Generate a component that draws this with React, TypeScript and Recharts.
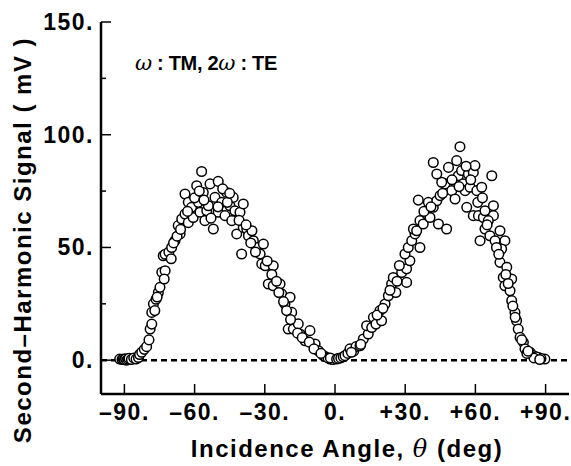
import { ScatterChart, Scatter, XAxis, YAxis, ReferenceLine } from 'recharts';

// incidence angle ticks (deg)
const angleTicks = [-90, -60, -30, 0, 30, 60, 90];
const angleTickLabels = ['\u201390.', '\u201360.', '\u201330.', '0.', '+30.', '+60.', '+90.'];
const angleMinorTicks = [-75, -45, -15, 15, 45, 75];

// signal ticks (mV)
const signalTicks = [0, 50, 100, 150];
const signalTickLabels = ['0.', '50.', '100.', '150.'];
const signalMinorTicks = [25, 75, 125];

// left lobe
const leftAngle = [
  -92, -91, -90.5, -90, -89.5, -89, -88.5, -88, -87, -86, -85, -84, -83.5, -82.6, -81.5, -80.5, -79.5, -79, -78.3,
  -78.3, -77.6, -76.5, -75.5, -74.8, -74, -72.6, -73.4, -72.6, -71, -69.8, -68.4, -67, -66.2, -65.5, -64.1, -64.1,
  -62.7, -61.3, -62.7, -60.6, -59.1, -58.4, -57.7, -57, -56.3, -55.6, -54.8, -54.1, -53.4, -52, -51.3, -49.9, -49.9,
  -48.4, -47, -46.3, -44.9, -44.1, -43.5, -42.8, -42, -40.6, -39.2, -39.2, -37.7, -37, -39.9, -34.9, -35.5, -33.5,
  -30.6, -32, -31.3, -29.8, -26.4, -28.5, -26.4, -23.5, -22.8, -21.4, -19.2, -18.5, -20.7, -20, -17.8, -15.7, -15,
  -10.7, -12.8, -8.5, -7.1, -5, -2.1, -4, -3, -1,
  -77, -76, -73, -70, -69, -67.5, -66, -63, -60, -58, -56, -53, -50, -48, -46, -45, -41, -38, -36, -34, -29, -27,
  -25, -24, -22, -19, -16, -14, -11, -9, -6, -2,
];
const leftSignal = [
  0.5, 0.3, 0.5, 0.2, 0.6, 0, 0.4, 0.8, 0.3, 1, 0.5, 1.2, 2.5, 3.5, 4.8, 6, 9, 13.8, 16,
  21.2, 25, 27, 30, 32.3, 39, 39.7, 46.3, 47, 48, 50, 53, 59.7, 56, 62.6, 64.8, 73.7,
  70, 67.8, 61, 63.3, 77.4, 70, 65.6, 83.7, 74.4, 61.9, 66.3, 68.5, 78.2, 58.2, 72.2, 79.3, 65.6,
  70, 64.1, 74.4, 68.5, 61.9, 72.2, 66.3, 56, 65.6, 69.3, 58.9, 58.2, 55.2, 47.1, 53, 57.4, 50,
  51.5, 47.1, 42.7, 41.9, 41.9, 33.8, 33, 33.8, 29.4, 24.9, 27.9, 21.2, 22, 13.8, 13.8, 16.1, 11.6,
  13.1, 8.6, 7.2, 4.2, 2, 0.5, 1.5, 1, 0.3,
  22, 28, 36, 45, 52, 55, 58, 66, 72, 75, 71, 63, 68, 76, 70, 74, 62, 60, 52, 48, 44, 38,
  35, 30, 26, 18, 12, 10, 8, 5, 3, 1,
];

// right lobe
const rightAngle = [
  0.7, 1.5, 2.5, 3.5, 4.3, 5.5, 6.4, 8, 9, 10.7, 12.1, 14.2, 13.5, 15.7, 16.4, 17.5, 19.2, 19.9, 21.4, 22.8, 24.2,
  24.9, 26, 28.5, 30.6, 30.6, 32, 29.9, 31.3, 32.8, 36.3, 34.2, 33.5, 34.9, 36.3, 37.7, 39.2, 40.6, 39.9, 35.6, 42,
  44.2, 43.5, 44.9, 47.7, 47, 45.6, 42, 43.5, 48.5, 49.9, 51.3, 52, 53.4, 52.7, 54.1, 54.8, 55.6, 57, 59.1, 59.8,
  57.7, 60.6, 62.7, 67, 56.3, 59.1, 61.3, 63.4, 64.1, 67.7, 67.7, 65.5, 64.1, 66.2, 62, 68.4, 70.5, 72.6, 71.2, 70.5,
  73.4, 71.9, 75.5, 72.6, 74.8, 75.5, 76.9, 77.6, 78.3, 79.1, 80.5, 81.2, 83.3, 84.7, 86.9, 89.7, 88, 86, 85, 82,
  87.5,
  7, 11, 18, 20.5, 23.5, 26.5, 27.5, 38, 41, 46, 50, 53, 56, 58, 61, 63, 65, 69, 70, 73, 74, 76, 77, 79.8, 82.5,
];
const rightSignal = [
  0.5, 0.8, 1, 1.5, 2, 3, 5, 4, 6, 6.4, 9.4, 11.6, 15.3, 14.5, 19, 16, 22, 17.5, 24.9, 28.6, 33.8,
  36.7, 30, 38.9, 34.5, 40.5, 44.1, 47.1, 50, 53, 50, 56, 58.2, 57.4, 61.9, 60.4, 64.8, 63.3, 70, 71, 67.8,
  60.4, 70.7, 73, 58.2, 78.2, 78.9, 87.7, 82.6, 85.5, 75.2, 71.5, 88.5, 94.7, 81.8, 84.1, 78.2, 75.2, 82.6, 83.3, 86.3,
  76.7, 75.2, 76.7, 81.8, 67.8, 64.1, 64.1, 63.3, 66.3, 68.5, 64.1, 61.9, 58.2, 55.2, 53, 53, 57.4, 53, 49.3, 43.4,
  41.2, 36.7, 36, 33, 30.8, 26.4, 21.2, 17.5, 13.8, 10.1, 7.9, 5, 3.5, 2, 1.2, 0.5, 0.8, 1.5, 1, 3,
  0.3,
  3.5, 7, 20, 23, 31, 35, 42, 66, 68, 74, 80, 77, 86, 80, 70, 72, 60, 50, 47, 38, 34, 24, 19, 9, 4,
];

const leftData = leftAngle.map((a, i) => ({ angle: a, signal: leftSignal[i] }));
const rightData = rightAngle.map((a, i) => ({ angle: a, signal: rightSignal[i] }));

const allAngleTicks = [...angleTicks, ...angleMinorTicks].sort((a, b) => a - b);
const allSignalTicks = [...signalTicks, ...signalMinorTicks].sort((a, b) => a - b);

const FONT = '"Liberation Sans", Arial, Helvetica, sans-serif';
const tickText = { fontFamily: FONT, fontSize: 23, fontWeight: 700, letterSpacing: 1.5, fill: '#000' };

const Ring = (props: any) => (
  <circle cx={props.cx} cy={props.cy} r={4.8} fill="#fff" stroke="#000" strokeWidth={1.5} />
);

const BottomTick = (props: any) => {
  const { x, y, payload } = props;
  const i = angleTicks.indexOf(payload.value);
  if (i < 0) return <g />;
  return (
    <g>
      <line x1={x} y1={y} x2={x} y2={y - 10} stroke="#000" strokeWidth={1.5} />
      <text x={x} y={y + 26} textAnchor="middle" {...tickText}>
        {angleTickLabels[i]}
      </text>
    </g>
  );
};

const TopTick = (props: any) => {
  const { x, y, payload } = props;
  const major = angleTicks.includes(payload.value);
  return <line x1={x} y1={y} x2={x} y2={y + (major ? 10 : 4)} stroke="#000" strokeWidth={1.5} />;
};

const LeftTick = (props: any) => {
  const { x, y, payload } = props;
  const i = signalTicks.indexOf(payload.value);
  return (
    <g>
      <line x1={x} y1={y} x2={x + (i < 0 ? 5 : 10)} y2={y} stroke="#000" strokeWidth={1.5} />
      {i >= 0 && (
        <text x={x - 7} y={y + 8} textAnchor="end" {...tickText}>
          {signalTickLabels[i]}
        </text>
      )}
    </g>
  );
};

const RightTick = (props: any) => {
  const { x, y, payload } = props;
  const major = signalTicks.includes(payload.value);
  return <line x1={x} y1={y} x2={x - (major ? 10 : 4)} y2={y} stroke="#000" strokeWidth={1.5} />;
};

export default function App() {
  const frame = { stroke: '#000', strokeWidth: 2.5 };
  return (
    <div style={{ position: 'absolute', left: 0, top: 0, width: 571, height: 466, background: '#fff' }}>
      <ScatterChart width={571} height={466} margin={{ top: 22, right: 2, bottom: 0, left: 0 }}>
        <XAxis
          dataKey="angle"
          type="number"
          domain={[-100, 100]}
          ticks={allAngleTicks}
          interval={0}
          height={72}
          axisLine={frame}
          tickLine={false}
          tickSize={0}
          tickMargin={0}
          tick={<BottomTick />}
        />
        <XAxis
          xAxisId="top"
          orientation="top"
          type="number"
          domain={[-100, 100]}
          ticks={allAngleTicks}
          interval={0}
          height={0}
          axisLine={frame}
          tickLine={false}
          tickSize={0}
          tickMargin={0}
          tick={<TopTick />}
        />
        <YAxis
          dataKey="signal"
          type="number"
          domain={[-15, 150]}
          ticks={allSignalTicks}
          interval={0}
          width={101}
          axisLine={frame}
          tickLine={false}
          tickSize={0}
          tickMargin={0}
          tick={<LeftTick />}
        />
        <YAxis
          yAxisId="right"
          orientation="right"
          type="number"
          domain={[-15, 150]}
          ticks={allSignalTicks}
          interval={0}
          width={0}
          axisLine={frame}
          tickLine={false}
          tickSize={0}
          tickMargin={0}
          tick={<RightTick />}
        />
        <ReferenceLine y={0} stroke="#000" strokeWidth={2.5} strokeDasharray="6 4" />
        <Scatter data={leftData} shape={<Ring />} isAnimationActive={false} />
        <Scatter data={rightData} shape={<Ring />} isAnimationActive={false} />
      </ScatterChart>
      <svg
        width={571}
        height={466}
        style={{ position: 'absolute', left: 0, top: 0, pointerEvents: 'none' }}
      >
        <text
          transform="translate(31 240) rotate(-90)"
          textAnchor="middle"
          fontFamily={FONT}
          fontSize={24}
          fontWeight={700}
          letterSpacing={1.5}
        >
          Second–Harmonic Signal ( mV )
        </text>
        <text x={347} y={457} textAnchor="middle" fontFamily={FONT} fontSize={24} fontWeight={700} letterSpacing={1.5}>
          Incidence Angle,{' '}
          <tspan fontFamily='"DejaVu Serif", serif' fontStyle="italic" fontWeight={400}>
            θ
          </tspan>{' '}
          (deg)
        </text>
        <text x={135} y={70} fontFamily={FONT} fontSize={20} fontWeight={700} letterSpacing={-0.3}>
          <tspan fontFamily='"DejaVu Serif", serif' fontStyle="italic" fontWeight={400} fontSize={21}>
            ω
          </tspan>
          {' : TM, 2'}
          <tspan fontFamily='"DejaVu Serif", serif' fontStyle="italic" fontWeight={400} fontSize={21}>
            ω
          </tspan>
          {' : TE'}
        </text>
      </svg>
    </div>
  );
}
